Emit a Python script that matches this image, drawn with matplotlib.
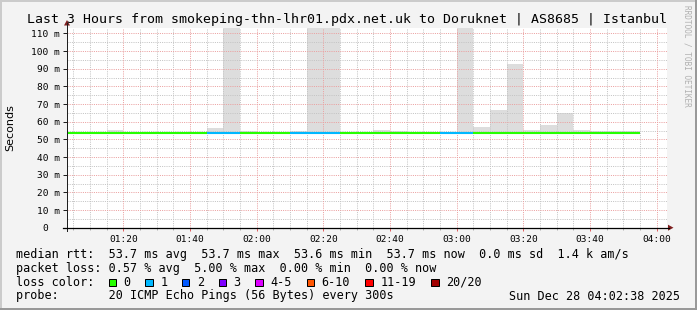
import matplotlib
matplotlib.use("Agg")
import matplotlib.pyplot as plt
from matplotlib.patches import Rectangle, Polygon
from matplotlib.lines import Line2D

# ---------------- data ----------------
step_times = ["01:00", "01:05", "01:10", "01:15", "01:20", "01:25", "01:30", "01:35",
              "01:40", "01:45", "01:50", "01:55", "02:00", "02:05", "02:10", "02:15",
              "02:20", "02:25", "02:30", "02:35", "02:40", "02:45", "02:50", "02:55",
              "03:00", "03:05", "03:10", "03:15", "03:20", "03:25", "03:30", "03:35",
              "03:40", "03:45", "03:50"]
median_ms = [53.7, 53.7, 53.7, 53.7, 53.7, 53.7, 53.7, 53.7, 53.7, 53.7, 53.7, 53.7,
             53.7, 53.7, 53.7, 53.7, 53.7, 53.7, 53.7, 53.7, 53.7, 53.7, 53.7, 53.7,
             53.7, 53.7, 53.7, 53.7, 53.7, 53.7, 53.7, 53.7, 53.7, 53.7, 53.7]
smoke_min_ms = [53.3, 53.3, 53.3, 53.3, 53.3, 53.3, 53.3, 53.3, 53.3, 53.3, 53.3, 53.3,
                53.3, 53.3, 53.3, 53.3, 53.3, 53.3, 53.3, 53.3, 53.3, 53.3, 53.3, 53.3,
                53.3, 53.3, 53.3, 53.3, 53.3, 53.3, 53.3, 53.3, 53.3, 53.3, 53.3]
smoke_max_ms = [54.4, 54.4, 54.4, 55.3, 54.4, 54.4, 54.3, 54.3, 54.3, 56.5, 150.0, 55.0,
                54.3, 54.3, 54.5, 150.0, 150.0, 54.3, 54.3, 55.2, 54.5, 54.3, 54.3, 54.3,
                150.0, 57.2, 66.6, 92.7, 55.3, 58.1, 65.0, 55.3, 54.7, 54.7, 54.7]
loss_count = [0, 0, 0, 0, 0, 0, 0, 0, 0, 1, 1, 0,
              0, 0, 1, 1, 1, 0, 0, 0, 0, 0, 0, 1,
              1, 0, 0, 0, 0, 0, 0, 0, 0, 0, 0]

loss_labels = ["0", "1", "2", "3", "4-5", "6-10", "11-19", "20/20"]
loss_upper = [0, 1, 2, 3, 5, 10, 19, 20]
loss_colors = ["#26ff00", "#00b8ff", "#0059ff", "#7e00ff", "#dd00ff", "#ff5500", "#ff0000", "#a10000"]

x_tick_labels = ["01:20", "01:40", "02:00", "02:20", "02:40", "03:00", "03:20", "03:40", "04:00"]
y_ticks_ms = [0, 10, 20, 30, 40, 50, 60, 70, 80, 90, 100, 110]
y_tick_labels = ["0  ", "10 m", "20 m", "30 m", "40 m", "50 m", "60 m", "70 m", "80 m",
                 "90 m", "100 m", "110 m"]

title = "Last 3 Hours from smokeping-thn-lhr01.pdx.net.uk to Doruknet | AS8685 | Istanbul"
row_rtt = "median rtt:  53.7 ms avg  53.7 ms max  53.6 ms min  53.7 ms now  0.0 ms sd  1.4 k am/s"
row_loss = "packet loss: 0.57 % avg  5.00 % max  0.00 % min  0.00 % now"
row_color = "loss color:"
row_probe = "probe:       20 ICMP Echo Pings (56 Bytes) every 300s"
timestamp = "Sun Dec 28 04:02:38 2025"
credit = "RRDTOOL / TOBI OETIKER"


def to_min(s):
    h, m = s.split(":")
    return int(h) * 60 + int(m)


def loss_color(n):
    for up, c in zip(loss_upper, loss_colors):
        if n <= up:
            return c
    return loss_colors[-1]


# ---------------- figure ----------------
W, H = 697, 310
DPI = 100
MONO = "DejaVu Sans Mono"
fig = plt.figure(figsize=(W / DPI, H / DPI), dpi=DPI, facecolor="#f3f3f3")


def fx(x):
    return x / W


def fy(y):
    return 1 - y / H


L, R, T, B = 67, 667, 27.7, 227.7
ax = fig.add_axes([fx(L), fy(B), (R - L) / W, (B - T) / H])
ax.set_facecolor("white")

step_x = [to_min(s) for s in step_times]
STEP = 5

# smoke
ax.bar(step_x, [mx - mn for mx, mn in zip(smoke_max_ms, smoke_min_ms)], bottom=smoke_min_ms,
       width=STEP, align="edge", color="#dddddd", linewidth=0, zorder=1)

# median line coloured by loss
for x0, med, lc in zip(step_x, median_ms, loss_count):
    ax.hlines(med, x0, x0 + STEP, colors=loss_color(lc), linewidth=1.5, zorder=4)

ax.set_xlim(63.1, 243.1)
ax.set_ylim(0, 113.2)

# grid
xmaj = [to_min(s) for s in x_tick_labels]
xmin_ = [m for m in range(65, 245, 5) if m not in xmaj]
ymin_ = [v + 5 for v in y_ticks_ms]
dots = (0, (1, 1.2))
for m in xmin_:
    ax.axvline(m, color="#c4c4c4", lw=0.72, ls=dots, zorder=2)
for v in ymin_:
    ax.axhline(v, color="#c4c4c4", lw=0.72, ls=dots, zorder=2)
for m in xmaj:
    ax.axvline(m, color="#eba0a0", lw=0.72, ls=dots, zorder=3)
for v in y_ticks_ms[1:]:
    ax.axhline(v, color="#eba0a0", lw=0.72, ls=dots, zorder=3)

ax.set_xticks(xmaj)
ax.set_xticklabels(x_tick_labels, fontfamily=MONO, fontsize=6.8)
ax.set_xticks(xmin_, minor=True)
ax.set_yticks(y_ticks_ms)
ax.set_yticklabels(y_tick_labels, fontfamily=MONO, fontsize=6.8)
ax.tick_params(axis="x", which="major", length=2.2, width=0.72, color="#e06060", pad=3)
ax.tick_params(axis="x", which="minor", length=1.5, width=0.72, color="#b0b0b0")
ax.tick_params(axis="y", which="major", length=2.6, width=0.72, color="#202020", pad=2.6)
for s in ax.spines.values():
    s.set_visible(False)

# axes lines + arrows
fig.add_artist(Line2D([fx(L), fx(L)], [fy(B + 3), fy(23)], color="#202020", lw=0.72))
fig.add_artist(Line2D([fx(63), fx(669)], [fy(B), fy(B)], color="#000000", lw=0.9))
fig.add_artist(Polygon([(fx(64), fy(25.5)), (fx(70), fy(25.5)), (fx(67), fy(20))],
                       closed=True, color="#7f1f1f", lw=0))
fig.add_artist(Polygon([(fx(668), fy(B - 3)), (fx(668), fy(B + 3)), (fx(673.5), fy(B))],
                       closed=True, color="#7f1f1f", lw=0))

# texts
fig.text(fx(346.7), fy(19), title, ha="center", va="center", fontfamily=MONO, fontsize=9.5)
fig.text(fx(10), fy(127.3), "Seconds", rotation=90, ha="center", va="center",
         fontfamily="DejaVu Sans", fontsize=8)
fig.text(fx(687), fy(5), credit, rotation=-90, ha="center", va="top",
         fontfamily=MONO, fontsize=5.6, color="#b0b0b0")

LEG = 8.5
fig.text(fx(16), fy(254.3), row_rtt, ha="left", va="center", fontfamily=MONO, fontsize=LEG)
fig.text(fx(16), fy(268.3), row_loss, ha="left", va="center", fontfamily=MONO, fontsize=LEG)
fig.text(fx(16), fy(282.3), row_color, ha="left", va="center", fontfamily=MONO, fontsize=LEG)
fig.text(fx(16), fy(296), row_probe, ha="left", va="center", fontfamily=MONO, fontsize=LEG)
fig.text(fx(680), fy(296), timestamp, ha="right", va="center", fontfamily=MONO, fontsize=LEG)

col = 0
for lab, c in zip(loss_labels, loss_colors):
    bx = 108.6 + 7.33 * col
    fig.add_artist(Rectangle((fx(bx), fy(286)), 7.5 / W, 7.5 / H, facecolor=c,
                             edgecolor="black", lw=0.72))
    fig.text(fx(bx + 15), fy(282.3), lab, ha="left", va="center", fontfamily=MONO, fontsize=LEG)
    col += 4 + len(lab)

# 3D border
fig.add_artist(Rectangle((0, 1 - 2 / H), 1, 2 / H, facecolor="#cbcbcb", lw=0))
fig.add_artist(Rectangle((0, 0), 2 / W, 1, facecolor="#cbcbcb", lw=0))
fig.add_artist(Rectangle((1 - 2 / W, 0), 2 / W, 1, facecolor="#999999", lw=0))
fig.add_artist(Rectangle((0, 0), 1, 2 / H, facecolor="#999999", lw=0))

fig.savefig("out.png", dpi=DPI, facecolor=fig.get_facecolor())
